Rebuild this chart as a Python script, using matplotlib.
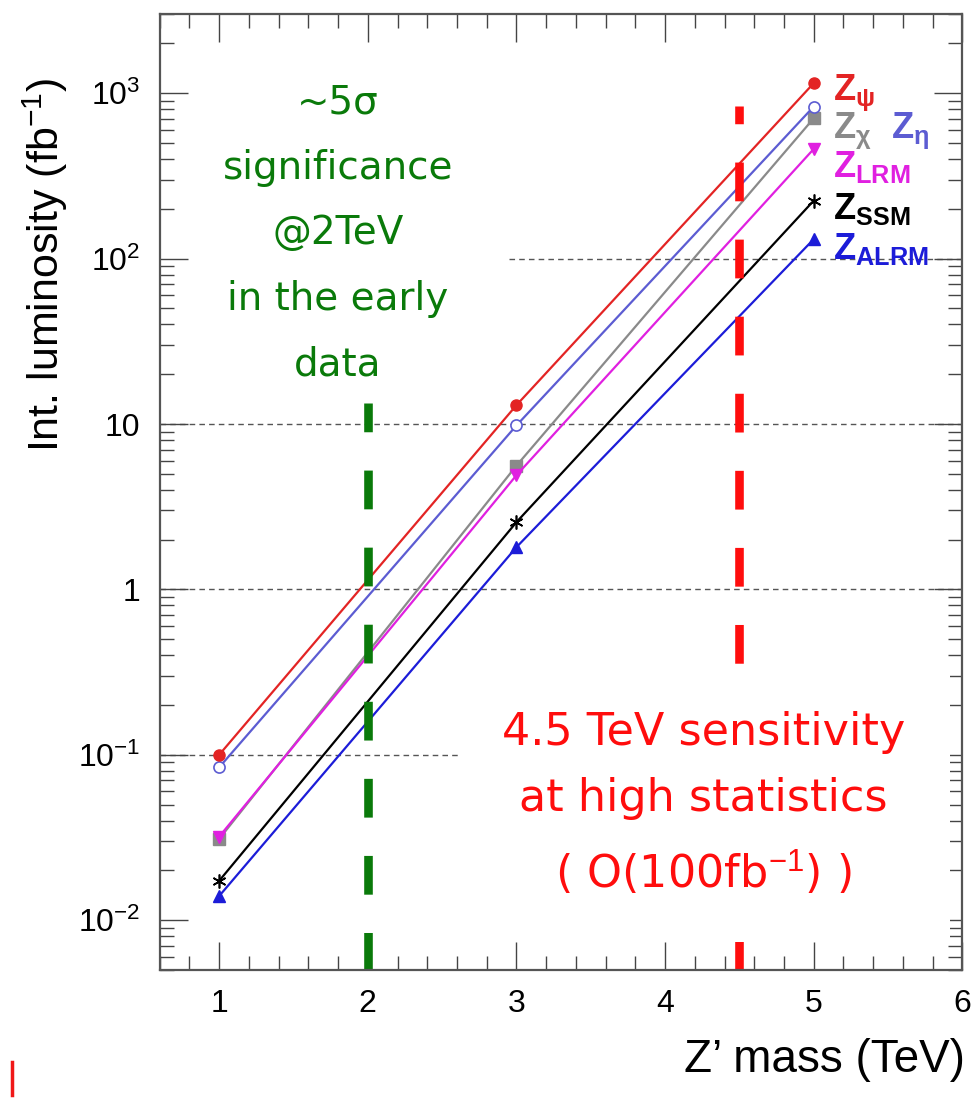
import matplotlib.pyplot as plt
import numpy as np
from matplotlib.ticker import MultipleLocator, LogLocator, FixedLocator, NullFormatter

# Z' mass points (TeV)
mass = [1, 3, 5]

# integrated luminosity needed (fb^-1)
lumi_psi = [0.10, 13.0, 1150]
lumi_eta = [0.084, 9.8, 830]
lumi_chi = [0.031, 5.6, 705]
lumi_lrm = [0.032, 4.9, 460]
lumi_ssm = [0.0173, 2.55, 224]
lumi_alrm = [0.0140, 1.80, 131]

ytick_vals = [1e-2, 1e-1, 1, 10, 1e2, 1e3]
ytick_labels = ['10$^{-2}$', '10$^{-1}$', '1', '10', '10$^{2}$', '10$^{3}$']

plt.rcParams['font.family'] = ['Liberation Sans', 'DejaVu Sans']
plt.rcParams['mathtext.fontset'] = 'custom'
plt.rcParams['mathtext.rm'] = 'Liberation Sans'
plt.rcParams['mathtext.it'] = 'Liberation Sans:italic'
plt.rcParams['mathtext.bf'] = 'Liberation Sans:bold'

fig = plt.figure(figsize=(9.74, 11.01), dpi=100)
ax = fig.add_axes([0.164, 0.119, 0.824, 0.868])

ax.plot(mass, lumi_psi, color='#e32424', lw=1.6, marker='o', ms=8, zorder=5)
ax.plot(mass, lumi_eta, color='#5c5cd2', lw=1.6, marker='o', ms=8, mfc='white', mew=1.2, zorder=4)
ax.plot(mass, lumi_chi, color='#8a8a8a', lw=1.6, marker='s', ms=8, zorder=3)
ax.plot(mass, lumi_lrm, color='#e020e0', lw=1.6, marker='v', ms=8, zorder=3)
ax.plot(mass, lumi_ssm, color='black', lw=1.6, marker=(6, 2, 0), ms=10, mew=1.2, zorder=3)
ax.plot(mass, lumi_alrm, color='#1c1cd8', lw=1.6, marker='^', ms=8, zorder=3)

# dashed reference lines
ax.axhline(10, color='#555555', lw=1, ls=(0, (4, 3)), zorder=1)
ax.axhline(1, color='#555555', lw=1, ls=(0, (4, 3)), zorder=1)
ax.hlines(0.1, 0.6, 2.68, color='#555555', lw=1, ls=(0, (4, 3)), zorder=1)
ax.hlines(100, 2.95, 6.0, color='#555555', lw=1, ls=(0, (4, 3)), zorder=1)

# thick vertical markers, drawn from the top down
ax.plot([2.0, 2.0], [13.4, 0.005], color='#0a7a0a', lw=6.2, ls=(1.16, (4.5, 4.45)),
        solid_capstyle='butt', dash_capstyle='butt', zorder=6)
ax.plot([4.5, 4.5], [835, 0.005], color='#ff0d0d', lw=6.2, ls=(2.44, (4.5, 4.45)),
        solid_capstyle='butt', dash_capstyle='butt', zorder=6)

ax.set_yscale('log')
ax.set_xlim(0.6, 6.0)
ax.set_ylim(5e-3, 3e3)

ax.xaxis.set_major_locator(MultipleLocator(1))
ax.xaxis.set_minor_locator(MultipleLocator(0.2))
ax.yaxis.set_major_locator(FixedLocator(ytick_vals))
ax.set_yticklabels(ytick_labels)
ax.yaxis.set_minor_locator(LogLocator(base=10, subs=np.arange(2, 10)))
ax.yaxis.set_minor_formatter(NullFormatter())

ax.tick_params(which='both', direction='in', top=True, right=True, width=1.0, color='#444444')
ax.tick_params(which='major', length=20, labelsize=23, pad=14)
ax.tick_params(which='minor', length=10)
for s in ax.spines.values():
    s.set_linewidth(1.6)
    s.set_color('#555555')
    s.set_zorder(8)

# series labels on the right
lab = dict(fontsize=26, fontweight='bold', ha='left', va='center')
ax.text(5.13, 1000, r'Z$_{\mathregular{ψ}}$', color='#e32424', **lab)
ax.text(5.13, 590, r'Z$_{\mathregular{χ}}$', color='#8a8a8a', **lab)
ax.text(5.52, 590, r'Z$_{\mathregular{η}}$', color='#5c5cd2', **lab)
ax.text(5.13, 360, r'Z$_{\mathbf{LRM}}$', color='#e020e0', **lab)
ax.text(5.13, 200, r'Z$_{\mathbf{SSM}}$', color='black', **lab)
ax.text(5.13, 115, r'Z$_{\mathbf{ALRM}}$', color='#1c1cd8', **lab)

# annotations
ax.text(1.8, 1150, '~5σ\nsignificance\n@2TeV\nin the early\ndata', color='#0a7a0a',
        fontsize=28, family='DejaVu Sans', ha='center', va='top', linespacing=1.92, zorder=7)
ax.text(4.26, 0.185, '4.5 TeV sensitivity\nat high statistics\n( O(100fb$^{-1}$) )', color='#ff0d0d',
        fontsize=32, family='DejaVu Sans', ha='center', va='top', linespacing=1.7, zorder=7,
        bbox=dict(boxstyle='square,pad=1.0', facecolor='white', edgecolor='none'))

fig.text(0.046, 0.93, 'Int. luminosity (fb$^{-1}$)', rotation=90, ha='center', va='top', fontsize=31)
fig.text(0.991, 0.037, "Z’ mass (TeV)", ha='right', va='center', fontsize=33)

# small red mark at bottom-left
fig.add_artist(plt.Line2D([0.012, 0.012], [0.005, 0.035], color='#f01818', lw=2.5))

fig.savefig('out.png', dpi=100)
